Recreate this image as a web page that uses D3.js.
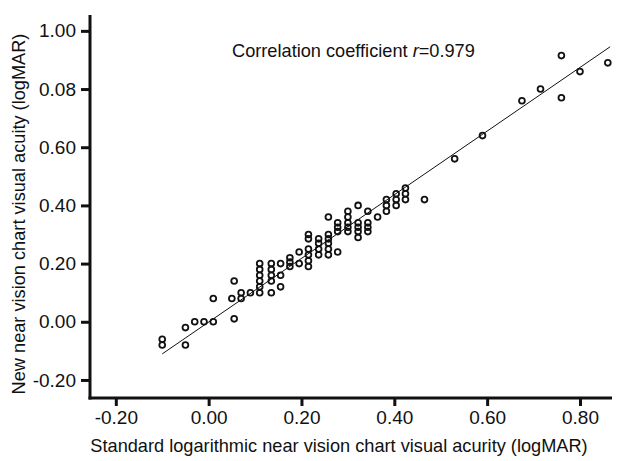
<!DOCTYPE html>
<html>
<head>
<meta charset="utf-8">
<script src="https://cdn.jsdelivr.net/npm/d3@7"></script>
<style>
  html, body { margin: 0; padding: 0; background: #fff; }
  svg { display: block; }
  text { font-family: "Liberation Sans", Arial, sans-serif; fill: #111; }
</style>
</head>
<body>
<svg id="chart" width="621" height="461"></svg>
<script>
// Standard chart (x) and new chart (y) logMAR values
const standardValues = [
  -0.10, -0.10, -0.05, -0.05, -0.03, -0.01, 0.01, 0.01, 0.055, 0.05, 0.055, 0.07, 0.07, 0.09,
  0.11, 0.11, 0.11, 0.11, 0.11, 0.11,
  0.135, 0.135, 0.135, 0.135, 0.135,
  0.155, 0.155, 0.155,
  0.175, 0.175, 0.175,
  0.195, 0.195,
  0.215, 0.215, 0.215, 0.215, 0.215, 0.215,
  0.237, 0.237, 0.237, 0.237,
  0.258, 0.258, 0.258, 0.258, 0.258, 0.258,
  0.278, 0.278, 0.278, 0.278,
  0.30, 0.30, 0.30, 0.30, 0.30,
  0.322, 0.322, 0.322, 0.322, 0.322,
  0.343, 0.343, 0.343, 0.343,
  0.364,
  0.383, 0.383, 0.383,
  0.404, 0.404, 0.404,
  0.424, 0.424, 0.424,
  0.465,
  0.53, 0.59, 0.675, 0.715, 0.76, 0.76, 0.80, 0.86
];
const newValues = [
  -0.06, -0.08, -0.08, -0.02, 0.00, 0.00, 0.00, 0.08, 0.01, 0.08, 0.14, 0.10, 0.08, 0.10,
  0.20, 0.18, 0.16, 0.14, 0.12, 0.10,
  0.20, 0.18, 0.16, 0.14, 0.10,
  0.20, 0.16, 0.12,
  0.22, 0.205, 0.19,
  0.24, 0.20,
  0.30, 0.285, 0.25, 0.23, 0.21, 0.19,
  0.285, 0.27, 0.25, 0.23,
  0.36, 0.30, 0.285, 0.27, 0.25, 0.23,
  0.34, 0.325, 0.31, 0.24,
  0.38, 0.36, 0.34, 0.325, 0.31,
  0.40, 0.34, 0.325, 0.31, 0.29,
  0.38, 0.34, 0.325, 0.31,
  0.36,
  0.42, 0.40, 0.38,
  0.44, 0.42, 0.40,
  0.46, 0.44, 0.42,
  0.42,
  0.56, 0.64, 0.76, 0.80, 0.915, 0.77, 0.86, 0.89
];

// Fitted line
const fitRange = [-0.10, 0.865];
const fitSlope = 1.094;
const fitIntercept = -0.001;

const xTickValues = [-0.20, 0.00, 0.20, 0.40, 0.60, 0.80];
const xTickLabels = ["-0.20", "0.00", "0.20", "0.40", "0.60", "0.80"];
const yTickValues = [-0.20, 0.00, 0.20, 0.40, 0.60, 0.80, 1.00];
const yTickLabels = ["-0.20", "0.00", "0.20", "0.40", "0.60", "0.08", "1.00"];

const xTitle = "Standard logarithmic near vision chart visual acurity (logMAR)";
const yTitle = "New near vision chart visual acuity (logMAR)";
const rValue = "0.979";

const svg = d3.select("#chart");
const plotLeft = 90, plotRight = 612, plotTop = 15, plotBottom = 398;

const x = d3.scaleLinear().domain([-0.2556, 0.869]).range([plotLeft, plotRight]);
const y = d3.scaleLinear().domain([-0.262, 1.0545]).range([plotBottom, plotTop]);

// Axes
const xAxis = d3.axisBottom(x).tickValues(xTickValues)
  .tickFormat((d, i) => xTickLabels[i]).tickSize(8).tickSizeOuter(0).tickPadding(5);
const yAxis = d3.axisLeft(y).tickValues(yTickValues)
  .tickFormat((d, i) => yTickLabels[i]).tickSize(9).tickSizeOuter(0).tickPadding(5);

const gx = svg.append("g").attr("transform", `translate(0,${plotBottom})`).call(xAxis);
const gy = svg.append("g").attr("transform", `translate(${plotLeft},0)`).call(yAxis);

[gx, gy].forEach(g => {
  g.select(".domain").attr("stroke", "#111").attr("stroke-width", 3);
  g.selectAll(".tick line").attr("stroke", "#111").attr("stroke-width", 3);
  g.selectAll(".tick text").attr("font-size", 19).attr("fill", "#111")
    .style("font-family", '"Liberation Sans", Arial, sans-serif');
});
gx.select(".domain").attr("d", `M${plotLeft - 1.5},0H${plotRight}`);
gy.select(".domain").attr("d", `M0,${plotTop}V${plotBottom + 1.5}`);

// Fitted line
svg.append("line")
  .attr("x1", x(fitRange[0])).attr("y1", y(fitSlope * fitRange[0] + fitIntercept))
  .attr("x2", x(fitRange[1])).attr("y2", y(fitSlope * fitRange[1] + fitIntercept))
  .attr("stroke", "#111").attr("stroke-width", 1);

// Points
const pts = standardValues.map((v, i) => ({ sx: v, ny: newValues[i] }));
svg.append("g").selectAll("circle").data(pts).join("circle")
  .attr("cx", d => x(d.sx)).attr("cy", d => y(d.ny)).attr("r", 2.9)
  .attr("fill", "none").attr("stroke", "#111").attr("stroke-width", 1.8);

// Titles
svg.append("text").attr("x", 339).attr("y", 452).attr("text-anchor", "middle")
  .attr("font-size", 18.2).text(xTitle);
svg.append("text").attr("transform", "translate(25,214) rotate(-90)")
  .attr("text-anchor", "middle").attr("font-size", 18.2).text(yTitle);

// Correlation annotation
const ann = svg.append("text").attr("x", 232).attr("y", 57).attr("font-size", 18.2);
ann.append("tspan").text("Correlation coefficient ");
ann.append("tspan").attr("font-style", "italic").text("r");
ann.append("tspan").text("=" + rValue);
</script>
</body>
</html>
